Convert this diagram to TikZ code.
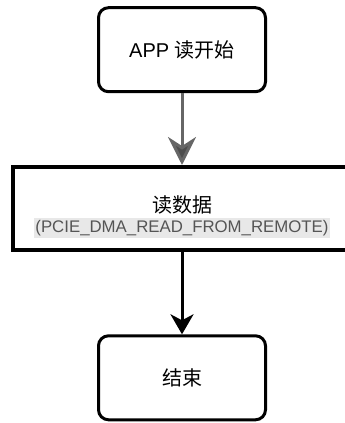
\documentclass[tikz,border=0pt]{standalone}
\usepackage{fontspec}
\setmainfont{Liberation Sans}
\newfontfamily\cjk{Noto Sans CJK SC}
\usetikzlibrary{arrows.meta}
\usetikzlibrary{calc,positioning}
\definecolor{linkgray}{HTML}{666666}
\definecolor{tipgray}{HTML}{4D4D4D}
\definecolor{callgray}{HTML}{555555}
\definecolor{callback}{HTML}{E8E8E8}

\begin{document}
\begin{tikzpicture}[x=1pt, y=1pt, >=Stealth,
    endbox/.style={draw, line width=3pt, rounded corners=10pt, minimum width=167pt, minimum height=84pt, inner sep=0pt, font=\fontsize{20}{24}\selectfont},
    stagebox/.style={draw, line width=4pt, minimum width=338pt, minimum height=83pt, inner sep=0pt}]

    \clip (0,0) rectangle (345,-423);

    \node[endbox] (start) at (182,-49.7) {APP {\cjk 读开始}};
    \node[stagebox] (read) at (182,-208.5) {};
    \node[font=\fontsize{20}{24}\selectfont\cjk] (readname) at (182,-205) {读数据};
    \node[font=\fontsize{16.8}{20}\selectfont, text=callgray, fill=callback, inner xsep=1pt, inner ysep=2pt] (readcall) at (182,-228) {(PCIE\_DMA\_READ\_FROM\_REMOTE)};
    \node[endbox, font=\fontsize{20}{24}\selectfont\cjk] (end) at (182,-377.8) {结束};

    % links
    \draw[-{Stealth[length=28pt, width=28pt, inset=9pt, fill=tipgray]}, draw=linkgray, line width=3pt] (start) -- (read);
    \draw[-{Stealth[length=20pt, width=23pt, inset=6pt]}, line width=3pt] (read) -- (end);

\end{tikzpicture}
\end{document}
